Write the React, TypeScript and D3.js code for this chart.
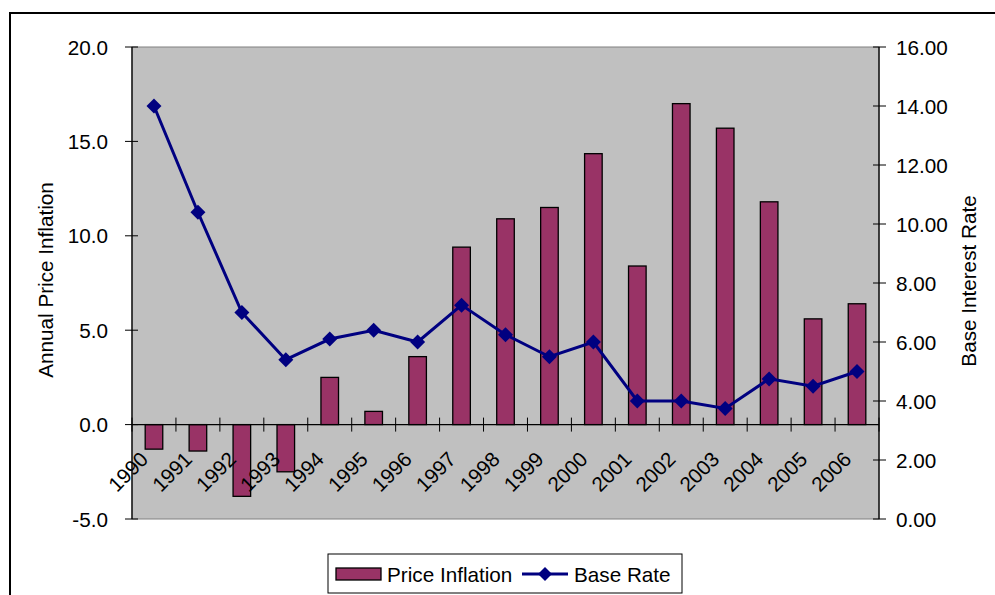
import React from "react";
import * as d3 from "d3";

const years = ["1990","1991","1992","1993","1994","1995","1996","1997","1998","1999","2000","2001","2002","2003","2004","2005","2006"];
const priceInflation = [-1.3, -1.4, -3.8, -2.5, 2.5, 0.7, 3.6, 9.4, 10.9, 11.5, 14.35, 8.4, 17.0, 15.7, 11.8, 5.6, 6.4];
const baseRate = [14.0, 10.4, 7.0, 5.4, 6.1, 6.4, 6.0, 7.25, 6.25, 5.5, 6.0, 4.0, 4.0, 3.75, 4.75, 4.5, 5.0];
const leftTicks = [-5, 0, 5, 10, 15, 20];
const rightTicks = [0, 2, 4, 6, 8, 10, 12, 14, 16];

const W = 995, H = 595;
const plot = { left: 132, right: 879, top: 47, bottom: 519 };
const FONT = "Arial, 'Liberation Sans', sans-serif";
const FS = 20.7;

export default function App() {
  const x = d3.scaleBand<string>().domain(years).range([plot.left, plot.right]).paddingInner(0).paddingOuter(0);
  const yL = d3.scaleLinear().domain([-5, 20]).range([plot.bottom, plot.top]);
  const yR = d3.scaleLinear().domain([0, 16]).range([plot.bottom, plot.top]);
  const bw = x.bandwidth() / 2.5;
  const line = d3.line<number>()
    .x((_, i) => (x(years[i]) as number) + x.bandwidth() / 2)
    .y((d) => yR(d));
  const zeroY = yL(0);
  const diamond = (cx: number, cy: number, r: number) =>
    `M${cx},${cy - r}L${cx + r},${cy}L${cx},${cy + r}L${cx - r},${cy}Z`;

  return (
    <svg width={W} height={H} style={{ position: "absolute", left: 0, top: 0, fontFamily: FONT }}>
      <rect x={0} y={0} width={W} height={H} fill="#fff" />
      {/* outer frame */}
      <rect x={10} y={13} width={W + 20} height={H + 20} fill="none" stroke="#000" strokeWidth={2} />
      {/* plot area */}
      <rect x={plot.left} y={plot.top} width={plot.right - plot.left} height={plot.bottom - plot.top} fill="#C0C0C0" stroke="#808080" strokeWidth={1} />
      {/* bars */}
      {priceInflation.map((v, i) => {
        const cx = (x(years[i]) as number) + x.bandwidth() / 2;
        const y0 = Math.min(yL(v), zeroY);
        const h = Math.abs(yL(v) - zeroY);
        return <rect key={i} x={cx - bw / 2} y={y0} width={bw} height={h} fill="#993366" stroke="#000" strokeWidth={1.3} />;
      })}
      {/* category axis at zero */}
      <line x1={plot.left} x2={plot.right} y1={zeroY} y2={zeroY} stroke="#000" strokeWidth={1.3} />
      {d3.range(years.length + 1).map((i) => {
        const xx = plot.left + i * x.bandwidth();
        return <line key={i} x1={xx} x2={xx} y1={zeroY - 7} y2={zeroY + 7} stroke="#000" strokeWidth={1} />;
      })}
      {years.map((yr, i) => {
        const cx = (x(yr) as number) + x.bandwidth() / 2;
        const ax = cx - 15, ay = 450;
        return (
          <text key={yr} x={ax} y={ay} transform={`rotate(-45 ${ax} ${ay})`} textAnchor="end" dy="0.72em" fontSize={FS} fill="#000">{yr}</text>
        );
      })}
      {/* line series */}
      <path d={line(baseRate) || ""} fill="none" stroke="#000080" strokeWidth={3} />
      {baseRate.map((v, i) => {
        const cx = (x(years[i]) as number) + x.bandwidth() / 2;
        return <path key={i} d={diamond(cx, yR(v), 7.5)} fill="#000080" />;
      })}
      {/* left axis */}
      <line x1={plot.left} x2={plot.left} y1={plot.top} y2={plot.bottom} stroke="#000" strokeWidth={1.3} />
      {leftTicks.map((t) => (
        <g key={t}>
          <line x1={plot.left - 7} x2={plot.left + 6} y1={yL(t)} y2={yL(t)} stroke="#000" strokeWidth={1} />
          <text x={108} y={yL(t)} textAnchor="end" dominantBaseline="central" fontSize={FS} fill="#000">{t.toFixed(1)}</text>
        </g>
      ))}
      <text x={45} y={280} transform="rotate(-90 45 280)" textAnchor="middle" dominantBaseline="central" fontSize={FS} fill="#000">Annual Price Inflation</text>
      {/* right axis */}
      <line x1={plot.right} x2={plot.right} y1={plot.top} y2={plot.bottom} stroke="#000" strokeWidth={1.3} />
      {rightTicks.map((t) => (
        <g key={t}>
          <line x1={plot.right - 6} x2={plot.right + 7} y1={yR(t)} y2={yR(t)} stroke="#000" strokeWidth={1} />
          <text x={896} y={yR(t)} textAnchor="start" dominantBaseline="central" fontSize={FS} fill="#000">{t.toFixed(2)}</text>
        </g>
      ))}
      <text x={968} y={281} transform="rotate(-90 968 281)" textAnchor="middle" dominantBaseline="central" fontSize={FS} fill="#000">Base Interest Rate</text>
      {/* legend */}
      <rect x={328} y={554} width={354} height={39} fill="#fff" stroke="#000" strokeWidth={1} />
      <rect x={336} y={568} width={45} height={12} fill="#993366" stroke="#000" strokeWidth={1.3} />
      <text x={387} y={574} dominantBaseline="central" fontSize={FS} fill="#000">Price Inflation</text>
      <line x1={522} x2={568} y1={574} y2={574} stroke="#000080" strokeWidth={3} />
      <path d={diamond(545, 574, 7)} fill="#000080" />
      <text x={574} y={574} dominantBaseline="central" fontSize={FS} fill="#000">Base Rate</text>
    </svg>
  );
}
